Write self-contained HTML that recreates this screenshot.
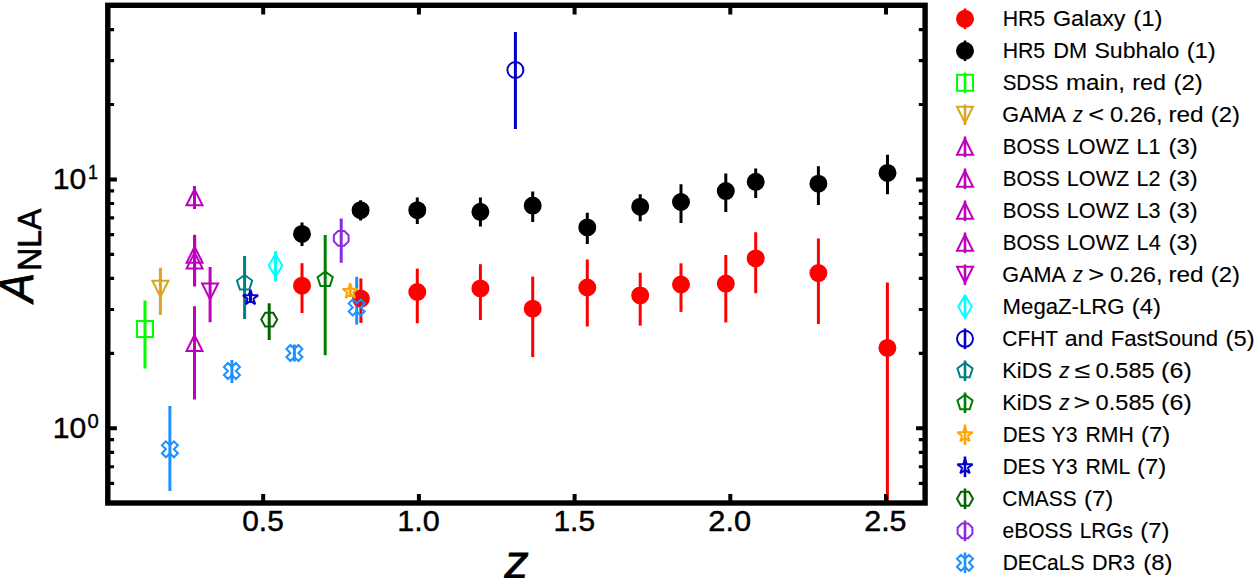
<!DOCTYPE html>
<html><head><meta charset="utf-8"><title>A_NLA vs z</title>
<style>
html,body{margin:0;padding:0;background:#fff;overflow:hidden}
svg{display:block}
text{font-family:"Liberation Sans",sans-serif;fill:#000;stroke:#000;font-kerning:none}
</style></head>
<body>
<svg width="1255" height="578" viewBox="0 0 1255 578">
<rect width="1255" height="578" fill="#fff"/>
<clipPath id="ax"><rect x="107.8" y="5.3" width="817.3" height="497.7"/></clipPath>
<g clip-path="url(#ax)">
<line x1="302" y1="263.2" x2="302" y2="313" stroke="#ff0000" stroke-width="3.0"/>
<line x1="360.9" y1="278.5" x2="360.9" y2="322.9" stroke="#ff0000" stroke-width="3.0"/>
<line x1="417.3" y1="268.6" x2="417.3" y2="323.2" stroke="#ff0000" stroke-width="3.0"/>
<line x1="480.4" y1="264.2" x2="480.4" y2="320" stroke="#ff0000" stroke-width="3.0"/>
<line x1="532.7" y1="276.6" x2="532.7" y2="357.1" stroke="#ff0000" stroke-width="3.0"/>
<line x1="587.3" y1="259.5" x2="587.3" y2="326.5" stroke="#ff0000" stroke-width="3.0"/>
<line x1="640.2" y1="272.7" x2="640.2" y2="325.6" stroke="#ff0000" stroke-width="3.0"/>
<line x1="681" y1="263.3" x2="681" y2="311.9" stroke="#ff0000" stroke-width="3.0"/>
<line x1="725.8" y1="254.9" x2="725.8" y2="322.5" stroke="#ff0000" stroke-width="3.0"/>
<line x1="755.7" y1="232.2" x2="755.7" y2="293.2" stroke="#ff0000" stroke-width="3.0"/>
<line x1="818.4" y1="238.6" x2="818.4" y2="324" stroke="#ff0000" stroke-width="3.0"/>
<line x1="887.4" y1="282.4" x2="887.4" y2="510" stroke="#ff0000" stroke-width="3.0"/>
<line x1="302" y1="222.6" x2="302" y2="245.9" stroke="#000000" stroke-width="3.0"/>
<line x1="360.6" y1="200.3" x2="360.6" y2="220.5" stroke="#000000" stroke-width="3.0"/>
<line x1="417.3" y1="197.5" x2="417.3" y2="224" stroke="#000000" stroke-width="3.0"/>
<line x1="480.4" y1="197.5" x2="480.4" y2="226.6" stroke="#000000" stroke-width="3.0"/>
<line x1="532.7" y1="191.5" x2="532.7" y2="222.1" stroke="#000000" stroke-width="3.0"/>
<line x1="587.3" y1="212.7" x2="587.3" y2="243.9" stroke="#000000" stroke-width="3.0"/>
<line x1="640.2" y1="194.2" x2="640.2" y2="221.3" stroke="#000000" stroke-width="3.0"/>
<line x1="681" y1="184.3" x2="681" y2="222.9" stroke="#000000" stroke-width="3.0"/>
<line x1="725.8" y1="173.4" x2="725.8" y2="212" stroke="#000000" stroke-width="3.0"/>
<line x1="755.7" y1="168.4" x2="755.7" y2="198" stroke="#000000" stroke-width="3.0"/>
<line x1="818.4" y1="166.3" x2="818.4" y2="205.1" stroke="#000000" stroke-width="3.0"/>
<line x1="887.5" y1="154.8" x2="887.5" y2="194.2" stroke="#000000" stroke-width="3.0"/>
<line x1="145" y1="300.5" x2="145" y2="368.5" stroke="#00ff00" stroke-width="3.0"/>
<line x1="160.4" y1="267.8" x2="160.4" y2="315" stroke="#daa520" stroke-width="3.0"/>
<line x1="194.5" y1="186" x2="194.5" y2="208.9" stroke="#bf00bf" stroke-width="3.0"/>
<line x1="194.6" y1="234.7" x2="194.6" y2="286.6" stroke="#bf00bf" stroke-width="3.0"/>
<line x1="194.6" y1="236" x2="194.6" y2="285" stroke="#bf00bf" stroke-width="3.0"/>
<line x1="194.5" y1="306.2" x2="194.5" y2="399.6" stroke="#bf00bf" stroke-width="3.0"/>
<line x1="210.1" y1="267.1" x2="210.1" y2="322.2" stroke="#bf00bf" stroke-width="3.0"/>
<line x1="275.5" y1="251.3" x2="275.5" y2="281.6" stroke="#00ffff" stroke-width="3.0"/>
<line x1="515.4" y1="32" x2="515.4" y2="128.9" stroke="#0000cd" stroke-width="3.0"/>
<line x1="244.6" y1="256" x2="244.6" y2="319.1" stroke="#008080" stroke-width="3.0"/>
<line x1="325.2" y1="235" x2="325.2" y2="355.2" stroke="#008000" stroke-width="3.0"/>
<line x1="350.2" y1="286" x2="350.2" y2="297" stroke="#ffa500" stroke-width="3.0"/>
<line x1="250.5" y1="292" x2="250.5" y2="303" stroke="#0000cd" stroke-width="3.0"/>
<line x1="269.2" y1="303.3" x2="269.2" y2="340" stroke="#006400" stroke-width="3.0"/>
<line x1="341.2" y1="218.6" x2="341.2" y2="262.8" stroke="#8a2be2" stroke-width="3.0"/>
<line x1="169.9" y1="405.9" x2="169.9" y2="491" stroke="#1e90ff" stroke-width="3.0"/>
<line x1="231.9" y1="359.9" x2="231.9" y2="383" stroke="#1e90ff" stroke-width="3.0"/>
<line x1="294.4" y1="344.5" x2="294.4" y2="361.5" stroke="#1e90ff" stroke-width="3.0"/>
<line x1="356.7" y1="276.8" x2="356.7" y2="324.6" stroke="#1e90ff" stroke-width="3.0"/>
<circle cx="302" cy="285.7" r="8" fill="#ff0000" stroke="#ff0000" stroke-width="2.0"/>
<circle cx="360.9" cy="298.6" r="8" fill="#ff0000" stroke="#ff0000" stroke-width="2.0"/>
<circle cx="417.3" cy="292" r="8" fill="#ff0000" stroke="#ff0000" stroke-width="2.0"/>
<circle cx="480.4" cy="288.4" r="8" fill="#ff0000" stroke="#ff0000" stroke-width="2.0"/>
<circle cx="532.7" cy="308.7" r="8" fill="#ff0000" stroke="#ff0000" stroke-width="2.0"/>
<circle cx="587.3" cy="287.5" r="8" fill="#ff0000" stroke="#ff0000" stroke-width="2.0"/>
<circle cx="640.2" cy="295.4" r="8" fill="#ff0000" stroke="#ff0000" stroke-width="2.0"/>
<circle cx="681" cy="284.5" r="8" fill="#ff0000" stroke="#ff0000" stroke-width="2.0"/>
<circle cx="725.8" cy="283.6" r="8" fill="#ff0000" stroke="#ff0000" stroke-width="2.0"/>
<circle cx="755.7" cy="258.4" r="8" fill="#ff0000" stroke="#ff0000" stroke-width="2.0"/>
<circle cx="818.4" cy="273.1" r="8" fill="#ff0000" stroke="#ff0000" stroke-width="2.0"/>
<circle cx="887.4" cy="347.9" r="8" fill="#ff0000" stroke="#ff0000" stroke-width="2.0"/>
<circle cx="302" cy="233.9" r="8" fill="#000000" stroke="#000000" stroke-width="2.0"/>
<circle cx="360.6" cy="210.2" r="8" fill="#000000" stroke="#000000" stroke-width="2.0"/>
<circle cx="417.3" cy="210.2" r="8" fill="#000000" stroke="#000000" stroke-width="2.0"/>
<circle cx="480.4" cy="211.8" r="8" fill="#000000" stroke="#000000" stroke-width="2.0"/>
<circle cx="532.7" cy="205.6" r="8" fill="#000000" stroke="#000000" stroke-width="2.0"/>
<circle cx="587.3" cy="227.4" r="8" fill="#000000" stroke="#000000" stroke-width="2.0"/>
<circle cx="640.2" cy="206.7" r="8" fill="#000000" stroke="#000000" stroke-width="2.0"/>
<circle cx="681" cy="202" r="8" fill="#000000" stroke="#000000" stroke-width="2.0"/>
<circle cx="725.8" cy="191.1" r="8" fill="#000000" stroke="#000000" stroke-width="2.0"/>
<circle cx="755.7" cy="181.8" r="8" fill="#000000" stroke="#000000" stroke-width="2.0"/>
<circle cx="818.4" cy="183.7" r="8" fill="#000000" stroke="#000000" stroke-width="2.0"/>
<circle cx="887.5" cy="172.9" r="8" fill="#000000" stroke="#000000" stroke-width="2.0"/>
<path d="M137,337.1 L153,337.1 L153,321.1 L137,321.1 Z" fill="none" stroke="#00ff00" stroke-width="2.0" stroke-linejoin="miter"/>
<path d="M160.4,296.7 L168.4,280.7 L152.4,280.7 Z" fill="none" stroke="#daa520" stroke-width="2.0" stroke-linejoin="miter"/>
<path d="M194.5,189.3 L186.5,205.3 L202.5,205.3 Z" fill="none" stroke="#bf00bf" stroke-width="2.0" stroke-linejoin="miter"/>
<path d="M194.6,246.8 L186.6,262.8 L202.6,262.8 Z" fill="none" stroke="#bf00bf" stroke-width="2.0" stroke-linejoin="miter"/>
<path d="M194.6,252.5 L186.6,268.5 L202.6,268.5 Z" fill="none" stroke="#bf00bf" stroke-width="2.0" stroke-linejoin="miter"/>
<path d="M194.5,335 L186.5,351 L202.5,351 Z" fill="none" stroke="#bf00bf" stroke-width="2.0" stroke-linejoin="miter"/>
<path d="M210.1,299.4 L218.1,283.4 L202.1,283.4 Z" fill="none" stroke="#bf00bf" stroke-width="2.0" stroke-linejoin="miter"/>
<path d="M275.5,276.71 L282.29,265.4 L275.5,254.09 L268.71,265.4 Z" fill="none" stroke="#00ffff" stroke-width="2.0" stroke-linejoin="miter"/>
<circle cx="515.4" cy="70" r="8" fill="none" stroke="#0000cd" stroke-width="2.0"/>
<path d="M244.6,275 L236.99,280.53 L239.9,289.47 L249.3,289.47 L252.21,280.53 Z" fill="none" stroke="#008080" stroke-width="2.0" stroke-linejoin="miter"/>
<path d="M325.2,271.6 L317.59,277.13 L320.5,286.07 L329.9,286.07 L332.81,277.13 Z" fill="none" stroke="#008000" stroke-width="2.0" stroke-linejoin="miter"/>
<path d="M350.2,283.4 L348.4,288.93 L342.59,288.93 L347.29,292.34 L345.5,297.87 L350.2,294.46 L354.9,297.87 L353.11,292.34 L357.81,288.93 L352,288.93 Z" fill="none" stroke="#ffa500" stroke-width="2.0" stroke-linejoin="bevel"/>
<path d="M250.5,289.8 L248.7,295.33 L242.89,295.33 L247.59,298.74 L245.8,304.27 L250.5,300.86 L255.2,304.27 L253.41,298.74 L258.11,295.33 L252.3,295.33 Z" fill="none" stroke="#0000cd" stroke-width="2.0" stroke-linejoin="bevel"/>
<path d="M265.2,312.67 L261.2,319.6 L265.2,326.53 L273.2,326.53 L277.2,319.6 L273.2,312.67 Z" fill="none" stroke="#006400" stroke-width="2.0" stroke-linejoin="miter"/>
<path d="M338.14,230.91 L333.81,235.24 L333.81,241.36 L338.14,245.69 L344.26,245.69 L348.59,241.36 L348.59,235.24 L344.26,230.91 Z" fill="none" stroke="#8a2be2" stroke-width="2.0" stroke-linejoin="miter"/>
<path d="M165.9,457.3 L169.9,453.3 L173.9,457.3 L177.9,453.3 L173.9,449.3 L177.9,445.3 L173.9,441.3 L169.9,445.3 L165.9,441.3 L161.9,445.3 L165.9,449.3 L161.9,453.3 Z" fill="none" stroke="#1e90ff" stroke-width="2.0" stroke-linejoin="miter"/>
<path d="M227.9,379 L231.9,375 L235.9,379 L239.9,375 L235.9,371 L239.9,367 L235.9,363 L231.9,367 L227.9,363 L223.9,367 L227.9,371 L223.9,375 Z" fill="none" stroke="#1e90ff" stroke-width="2.0" stroke-linejoin="miter"/>
<path d="M290.4,361 L294.4,357 L298.4,361 L302.4,357 L298.4,353 L302.4,349 L298.4,345 L294.4,349 L290.4,345 L286.4,349 L290.4,353 L286.4,357 Z" fill="none" stroke="#1e90ff" stroke-width="2.0" stroke-linejoin="miter"/>
<path d="M352.7,315.4 L356.7,311.4 L360.7,315.4 L364.7,311.4 L360.7,307.4 L364.7,303.4 L360.7,299.4 L356.7,303.4 L352.7,299.4 L348.7,303.4 L352.7,307.4 L348.7,311.4 Z" fill="none" stroke="#1e90ff" stroke-width="2.0" stroke-linejoin="miter"/>
</g>
<rect x="107.8" y="5.3" width="817.3" height="497.7" fill="none" stroke="#000" stroke-width="5.4"/>
<path d="M263.2,503V493.9M263.2,5.3V14.4M418.9,503V493.9M418.9,5.3V14.4M574.6,503V493.9M574.6,5.3V14.4M730.3,503V493.9M730.3,5.3V14.4M886,503V493.9M886,5.3V14.4" stroke="#000" stroke-width="4.0" fill="none"/>
<path d="M107.8,428.2H116.9M925.1,428.2H916M107.8,179.4H116.9M925.1,179.4H916" stroke="#000" stroke-width="4.0" fill="none"/>
<path d="M107.8,483.4H114.1M925.1,483.4H918.8M107.8,466.74H114.1M925.1,466.74H918.8M107.8,452.31H114.1M925.1,452.31H918.8M107.8,439.58H114.1M925.1,439.58H918.8M107.8,353.3H114.1M925.1,353.3H918.8M107.8,309.49H114.1M925.1,309.49H918.8M107.8,278.41H114.1M925.1,278.41H918.8M107.8,254.3H114.1M925.1,254.3H918.8M107.8,234.6H114.1M925.1,234.6H918.8M107.8,217.94H114.1M925.1,217.94H918.8M107.8,203.51H114.1M925.1,203.51H918.8M107.8,190.78H114.1M925.1,190.78H918.8M107.8,104.5H114.1M925.1,104.5H918.8M107.8,60.69H114.1M925.1,60.69H918.8M107.8,29.61H114.1M925.1,29.61H918.8" stroke="#000" stroke-width="3.2" fill="none"/>
<line x1="965" y1="8.5" x2="965" y2="29.1" stroke="#ff0000" stroke-width="2.6"/>
<circle cx="965" cy="18.8" r="8" fill="#ff0000" stroke="#ff0000" stroke-width="2.0"/>
<line x1="965" y1="40.5" x2="965" y2="61.1" stroke="#000000" stroke-width="2.6"/>
<circle cx="965" cy="50.8" r="8" fill="#000000" stroke="#000000" stroke-width="2.0"/>
<line x1="965" y1="72.5" x2="965" y2="93.1" stroke="#00ff00" stroke-width="2.6"/>
<path d="M957,90.8 L973,90.8 L973,74.8 L957,74.8 Z" fill="none" stroke="#00ff00" stroke-width="2.0" stroke-linejoin="miter"/>
<line x1="965" y1="104.5" x2="965" y2="125.1" stroke="#daa520" stroke-width="2.6"/>
<path d="M965,122.8 L973,106.8 L957,106.8 Z" fill="none" stroke="#daa520" stroke-width="2.0" stroke-linejoin="miter"/>
<line x1="965" y1="136.5" x2="965" y2="157.1" stroke="#bf00bf" stroke-width="2.6"/>
<path d="M965,138.8 L957,154.8 L973,154.8 Z" fill="none" stroke="#bf00bf" stroke-width="2.0" stroke-linejoin="miter"/>
<line x1="965" y1="168.5" x2="965" y2="189.1" stroke="#bf00bf" stroke-width="2.6"/>
<path d="M965,170.8 L957,186.8 L973,186.8 Z" fill="none" stroke="#bf00bf" stroke-width="2.0" stroke-linejoin="miter"/>
<line x1="965" y1="200.5" x2="965" y2="221.1" stroke="#bf00bf" stroke-width="2.6"/>
<path d="M965,202.8 L957,218.8 L973,218.8 Z" fill="none" stroke="#bf00bf" stroke-width="2.0" stroke-linejoin="miter"/>
<line x1="965" y1="232.5" x2="965" y2="253.1" stroke="#bf00bf" stroke-width="2.6"/>
<path d="M965,234.8 L957,250.8 L973,250.8 Z" fill="none" stroke="#bf00bf" stroke-width="2.0" stroke-linejoin="miter"/>
<line x1="965" y1="264.5" x2="965" y2="285.1" stroke="#bf00bf" stroke-width="2.6"/>
<path d="M965,282.8 L973,266.8 L957,266.8 Z" fill="none" stroke="#bf00bf" stroke-width="2.0" stroke-linejoin="miter"/>
<line x1="965" y1="296.5" x2="965" y2="317.1" stroke="#00ffff" stroke-width="2.6"/>
<path d="M965,318.11 L971.79,306.8 L965,295.49 L958.21,306.8 Z" fill="none" stroke="#00ffff" stroke-width="2.0" stroke-linejoin="miter"/>
<line x1="965" y1="328.5" x2="965" y2="349.1" stroke="#0000cd" stroke-width="2.6"/>
<circle cx="965" cy="338.8" r="8" fill="none" stroke="#0000cd" stroke-width="2.0"/>
<line x1="965" y1="360.5" x2="965" y2="381.1" stroke="#008080" stroke-width="2.6"/>
<path d="M965,362.8 L957.39,368.33 L960.3,377.27 L969.7,377.27 L972.61,368.33 Z" fill="none" stroke="#008080" stroke-width="2.0" stroke-linejoin="miter"/>
<line x1="965" y1="392.5" x2="965" y2="413.1" stroke="#008000" stroke-width="2.6"/>
<path d="M965,394.8 L957.39,400.33 L960.3,409.27 L969.7,409.27 L972.61,400.33 Z" fill="none" stroke="#008000" stroke-width="2.0" stroke-linejoin="miter"/>
<line x1="965" y1="424.5" x2="965" y2="445.1" stroke="#ffa500" stroke-width="2.6"/>
<path d="M965,426.8 L963.2,432.33 L957.39,432.33 L962.09,435.74 L960.3,441.27 L965,437.86 L969.7,441.27 L967.91,435.74 L972.61,432.33 L966.8,432.33 Z" fill="none" stroke="#ffa500" stroke-width="2.0" stroke-linejoin="bevel"/>
<line x1="965" y1="456.5" x2="965" y2="477.1" stroke="#0000cd" stroke-width="2.6"/>
<path d="M965,458.8 L963.2,464.33 L957.39,464.33 L962.09,467.74 L960.3,473.27 L965,469.86 L969.7,473.27 L967.91,467.74 L972.61,464.33 L966.8,464.33 Z" fill="none" stroke="#0000cd" stroke-width="2.0" stroke-linejoin="bevel"/>
<line x1="965" y1="488.5" x2="965" y2="509.1" stroke="#006400" stroke-width="2.6"/>
<path d="M961,491.87 L957,498.8 L961,505.73 L969,505.73 L973,498.8 L969,491.87 Z" fill="none" stroke="#006400" stroke-width="2.0" stroke-linejoin="miter"/>
<line x1="965" y1="520.5" x2="965" y2="541.1" stroke="#8a2be2" stroke-width="2.6"/>
<path d="M961.94,523.41 L957.61,527.74 L957.61,533.86 L961.94,538.19 L968.06,538.19 L972.39,533.86 L972.39,527.74 L968.06,523.41 Z" fill="none" stroke="#8a2be2" stroke-width="2.0" stroke-linejoin="miter"/>
<line x1="965" y1="552.5" x2="965" y2="573.1" stroke="#1e90ff" stroke-width="2.6"/>
<path d="M961,570.8 L965,566.8 L969,570.8 L973,566.8 L969,562.8 L973,558.8 L969,554.8 L965,558.8 L961,554.8 L957,558.8 L961,562.8 L957,566.8 Z" fill="none" stroke="#1e90ff" stroke-width="2.0" stroke-linejoin="miter"/>
<text x="242.25" y="530.8" font-size="29.8" stroke-width="0.45" textLength="41.47" lengthAdjust="spacingAndGlyphs">0.5</text>
<text x="397.25" y="530.8" font-size="29.8" stroke-width="0.45" textLength="42.5" lengthAdjust="spacingAndGlyphs">1.0</text>
<text x="553.49" y="530.8" font-size="29.8" stroke-width="0.45" textLength="41.53" lengthAdjust="spacingAndGlyphs">1.5</text>
<text x="708.31" y="530.8" font-size="29.8" stroke-width="0.45" textLength="42.74" lengthAdjust="spacingAndGlyphs">2.0</text>
<text x="864.22" y="530.8" font-size="29.8" stroke-width="0.45" textLength="42.32" lengthAdjust="spacingAndGlyphs">2.5</text>
<text x="52.78" y="189.1" font-size="29.8" stroke-width="0.45" textLength="33.53" lengthAdjust="spacingAndGlyphs">10</text>
<text x="87.89" y="178.8" font-size="20.2" stroke-width="0.35" textLength="9.96" lengthAdjust="spacingAndGlyphs">1</text>
<text x="52.78" y="438.2" font-size="29.8" stroke-width="0.45" textLength="33.53" lengthAdjust="spacingAndGlyphs">10</text>
<text x="87.6" y="427.9" font-size="20.2" stroke-width="0.35" textLength="11.29" lengthAdjust="spacingAndGlyphs">0</text>
<text x="504.48" y="578.2" font-size="46.6" font-style="italic" stroke-width="0.8" textLength="24.17" lengthAdjust="spacingAndGlyphs">z</text>
<text x="-302.28" y="33.4" font-size="48.3" font-style="italic" transform="rotate(-90)" stroke-width="0.8" textLength="29.26" lengthAdjust="spacingAndGlyphs">A</text>
<text x="-270.77" y="40.5" font-size="33.1" transform="rotate(-90)" stroke-width="0.6" textLength="62.11" lengthAdjust="spacingAndGlyphs">NLA</text>
<text x="1002.65" y="26.2" font-size="22.5" stroke-width="0.12" textLength="42.56" lengthAdjust="spacingAndGlyphs">HR5</text>
<text x="1053.01" y="26.2" font-size="22.5" stroke-width="0.12" textLength="72.5" lengthAdjust="spacingAndGlyphs">Galaxy</text>
<text x="1133.33" y="26.2" font-size="22.5" stroke-width="0.12" textLength="29.2" lengthAdjust="spacingAndGlyphs">(1)</text>
<text x="1002.65" y="58.2" font-size="22.5" stroke-width="0.12" textLength="42.53" lengthAdjust="spacingAndGlyphs">HR5</text>
<text x="1053.31" y="58.2" font-size="22.5" stroke-width="0.12" textLength="33.87" lengthAdjust="spacingAndGlyphs">DM</text>
<text x="1094.43" y="58.2" font-size="22.5" stroke-width="0.12" textLength="84.92" lengthAdjust="spacingAndGlyphs">Subhalo</text>
<text x="1186.65" y="58.2" font-size="22.5" stroke-width="0.12" textLength="29.18" lengthAdjust="spacingAndGlyphs">(1)</text>
<text x="1002.64" y="90.2" font-size="22.5" stroke-width="0.12" textLength="55.95" lengthAdjust="spacingAndGlyphs">SDSS</text>
<text x="1065.97" y="90.2" font-size="22.5" stroke-width="0.12" textLength="59.08" lengthAdjust="spacingAndGlyphs">main,</text>
<text x="1132.28" y="90.2" font-size="22.5" stroke-width="0.12" textLength="33.63" lengthAdjust="spacingAndGlyphs">red</text>
<text x="1173.62" y="90.2" font-size="22.5" stroke-width="0.12" textLength="29.21" lengthAdjust="spacingAndGlyphs">(2)</text>
<text x="1002.7" y="154.2" font-size="22.5" stroke-width="0.12" textLength="57.05" lengthAdjust="spacingAndGlyphs">BOSS</text>
<text x="1066.87" y="154.2" font-size="22.5" stroke-width="0.12" textLength="62.38" lengthAdjust="spacingAndGlyphs">LOWZ</text>
<text x="1136.55" y="154.2" font-size="22.5" stroke-width="0.12" textLength="23.97" lengthAdjust="spacingAndGlyphs">L1</text>
<text x="1168.56" y="154.2" font-size="22.5" stroke-width="0.12" textLength="29.17" lengthAdjust="spacingAndGlyphs">(3)</text>
<text x="1002.7" y="186.2" font-size="22.5" stroke-width="0.12" textLength="57.05" lengthAdjust="spacingAndGlyphs">BOSS</text>
<text x="1066.87" y="186.2" font-size="22.5" stroke-width="0.12" textLength="62.38" lengthAdjust="spacingAndGlyphs">LOWZ</text>
<text x="1136.55" y="186.2" font-size="22.5" stroke-width="0.12" textLength="23.97" lengthAdjust="spacingAndGlyphs">L2</text>
<text x="1168.56" y="186.2" font-size="22.5" stroke-width="0.12" textLength="29.17" lengthAdjust="spacingAndGlyphs">(3)</text>
<text x="1002.7" y="218.2" font-size="22.5" stroke-width="0.12" textLength="57.05" lengthAdjust="spacingAndGlyphs">BOSS</text>
<text x="1066.87" y="218.2" font-size="22.5" stroke-width="0.12" textLength="62.38" lengthAdjust="spacingAndGlyphs">LOWZ</text>
<text x="1136.55" y="218.2" font-size="22.5" stroke-width="0.12" textLength="23.98" lengthAdjust="spacingAndGlyphs">L3</text>
<text x="1168.56" y="218.2" font-size="22.5" stroke-width="0.12" textLength="29.17" lengthAdjust="spacingAndGlyphs">(3)</text>
<text x="1002.7" y="250.2" font-size="22.5" stroke-width="0.12" textLength="57.05" lengthAdjust="spacingAndGlyphs">BOSS</text>
<text x="1066.87" y="250.2" font-size="22.5" stroke-width="0.12" textLength="62.38" lengthAdjust="spacingAndGlyphs">LOWZ</text>
<text x="1136.53" y="250.2" font-size="22.5" stroke-width="0.12" textLength="24.27" lengthAdjust="spacingAndGlyphs">L4</text>
<text x="1168.56" y="250.2" font-size="22.5" stroke-width="0.12" textLength="29.17" lengthAdjust="spacingAndGlyphs">(3)</text>
<text x="1002.58" y="314.2" font-size="22.5" stroke-width="0.12" textLength="121.99" lengthAdjust="spacingAndGlyphs">MegaZ-LRG</text>
<text x="1131.79" y="314.2" font-size="22.5" stroke-width="0.12" textLength="29.24" lengthAdjust="spacingAndGlyphs">(4)</text>
<text x="1002.37" y="346.2" font-size="22.5" stroke-width="0.12" textLength="55.79" lengthAdjust="spacingAndGlyphs">CFHT</text>
<text x="1064.73" y="346.2" font-size="22.5" stroke-width="0.12" textLength="38.53" lengthAdjust="spacingAndGlyphs">and</text>
<text x="1110.63" y="346.2" font-size="22.5" stroke-width="0.12" textLength="107.41" lengthAdjust="spacingAndGlyphs">FastSound</text>
<text x="1225.64" y="346.2" font-size="22.5" stroke-width="0.12" textLength="28.98" lengthAdjust="spacingAndGlyphs">(5)</text>
<text x="1002.69" y="442.2" font-size="22.5" stroke-width="0.12" textLength="42.49" lengthAdjust="spacingAndGlyphs">DES</text>
<text x="1051.62" y="442.2" font-size="22.5" stroke-width="0.12" textLength="26.02" lengthAdjust="spacingAndGlyphs">Y3</text>
<text x="1085.51" y="442.2" font-size="22.5" stroke-width="0.12" textLength="48.2" lengthAdjust="spacingAndGlyphs">RMH</text>
<text x="1141.12" y="442.2" font-size="22.5" stroke-width="0.12" textLength="29.21" lengthAdjust="spacingAndGlyphs">(7)</text>
<text x="1002.69" y="474.2" font-size="22.5" stroke-width="0.12" textLength="42.5" lengthAdjust="spacingAndGlyphs">DES</text>
<text x="1051.62" y="474.2" font-size="22.5" stroke-width="0.12" textLength="26.02" lengthAdjust="spacingAndGlyphs">Y3</text>
<text x="1085.51" y="474.2" font-size="22.5" stroke-width="0.12" textLength="44.82" lengthAdjust="spacingAndGlyphs">RML</text>
<text x="1137.02" y="474.2" font-size="22.5" stroke-width="0.12" textLength="29.21" lengthAdjust="spacingAndGlyphs">(7)</text>
<text x="1002.37" y="506.2" font-size="22.5" stroke-width="0.12" textLength="74.34" lengthAdjust="spacingAndGlyphs">CMASS</text>
<text x="1084.02" y="506.2" font-size="22.5" stroke-width="0.12" textLength="29.31" lengthAdjust="spacingAndGlyphs">(7)</text>
<text x="1002.6" y="538.2" font-size="22.5" stroke-width="0.12" textLength="69.95" lengthAdjust="spacingAndGlyphs">eBOSS</text>
<text x="1079.77" y="538.2" font-size="22.5" stroke-width="0.12" textLength="53.03" lengthAdjust="spacingAndGlyphs">LRGs</text>
<text x="1140.21" y="538.2" font-size="22.5" stroke-width="0.12" textLength="29.12" lengthAdjust="spacingAndGlyphs">(7)</text>
<text x="1002.66" y="570.2" font-size="22.5" stroke-width="0.12" textLength="81.83" lengthAdjust="spacingAndGlyphs">DECaLS</text>
<text x="1091.94" y="570.2" font-size="22.5" stroke-width="0.12" textLength="43.13" lengthAdjust="spacingAndGlyphs">DR3</text>
<text x="1143.2" y="570.2" font-size="22.5" stroke-width="0.12" textLength="29.22" lengthAdjust="spacingAndGlyphs">(8)</text>
<text x="1002.34" y="122.2" font-size="22.5" stroke-width="0.12" textLength="63.67" lengthAdjust="spacingAndGlyphs">GAMA</text>
<text x="1073.12" y="122.2" font-size="22.5" font-style="italic" stroke-width="0.12" textLength="9.8" lengthAdjust="spacingAndGlyphs">z</text>
<text x="1088.29" y="122.2" font-size="22.5" stroke-width="0.12" textLength="15.89" lengthAdjust="spacingAndGlyphs">&lt;</text>
<text x="1109.91" y="122.2" font-size="22.5" stroke-width="0.12" textLength="52.68" lengthAdjust="spacingAndGlyphs">0.26,</text>
<text x="1168.45" y="122.2" font-size="22.5" stroke-width="0.12" textLength="35.23" lengthAdjust="spacingAndGlyphs">red</text>
<text x="1210.88" y="122.2" font-size="22.5" stroke-width="0.12" textLength="29.15" lengthAdjust="spacingAndGlyphs">(2)</text>
<text x="1002.34" y="282.2" font-size="22.5" stroke-width="0.12" textLength="63.67" lengthAdjust="spacingAndGlyphs">GAMA</text>
<text x="1073.12" y="282.2" font-size="22.5" font-style="italic" stroke-width="0.12" textLength="9.8" lengthAdjust="spacingAndGlyphs">z</text>
<text x="1088.29" y="282.2" font-size="22.5" stroke-width="0.12" textLength="15.89" lengthAdjust="spacingAndGlyphs">&gt;</text>
<text x="1109.91" y="282.2" font-size="22.5" stroke-width="0.12" textLength="52.68" lengthAdjust="spacingAndGlyphs">0.26,</text>
<text x="1168.45" y="282.2" font-size="22.5" stroke-width="0.12" textLength="35.23" lengthAdjust="spacingAndGlyphs">red</text>
<text x="1210.88" y="282.2" font-size="22.5" stroke-width="0.12" textLength="29.15" lengthAdjust="spacingAndGlyphs">(2)</text>
<text x="1002.3" y="378.2" font-size="22.5" stroke-width="0.12" textLength="49.68" lengthAdjust="spacingAndGlyphs">KiDS</text>
<text x="1059.23" y="378.2" font-size="22.5" font-style="italic" stroke-width="0.12" textLength="10.3" lengthAdjust="spacingAndGlyphs">z</text>
<text x="1074.26" y="378.2" font-size="22.5" stroke-width="0.12" textLength="15.7" lengthAdjust="spacingAndGlyphs">≤</text>
<text x="1095.61" y="378.2" font-size="22.5" stroke-width="0.12" textLength="59.03" lengthAdjust="spacingAndGlyphs">0.585</text>
<text x="1161.11" y="378.2" font-size="22.5" stroke-width="0.12" textLength="30.69" lengthAdjust="spacingAndGlyphs">(6)</text>
<text x="1002.3" y="410.2" font-size="22.5" stroke-width="0.12" textLength="49.68" lengthAdjust="spacingAndGlyphs">KiDS</text>
<text x="1059.23" y="410.2" font-size="22.5" font-style="italic" stroke-width="0.12" textLength="10.3" lengthAdjust="spacingAndGlyphs">z</text>
<text x="1073.63" y="410.2" font-size="22.5" stroke-width="0.12" textLength="16.7" lengthAdjust="spacingAndGlyphs">&gt;</text>
<text x="1095.61" y="410.2" font-size="22.5" stroke-width="0.12" textLength="59.03" lengthAdjust="spacingAndGlyphs">0.585</text>
<text x="1161.11" y="410.2" font-size="22.5" stroke-width="0.12" textLength="30.69" lengthAdjust="spacingAndGlyphs">(6)</text>
</svg>
</body></html>
